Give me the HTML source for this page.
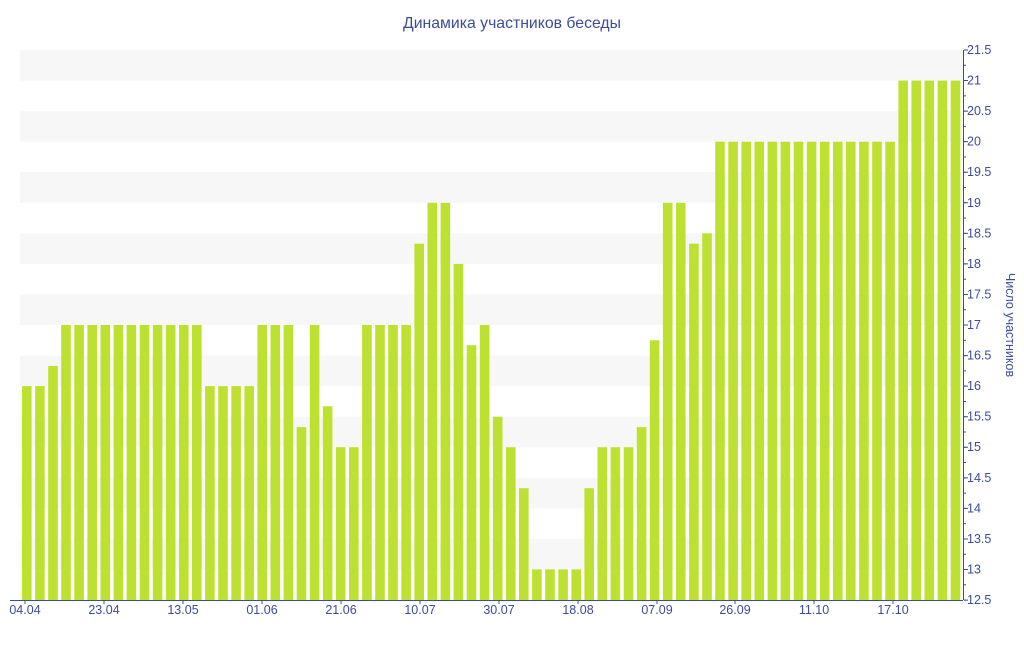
<!DOCTYPE html><html><head><meta charset="utf-8"><style>body{margin:0;background:#fff}</style></head><body>
<svg width="1024" height="640" xmlns="http://www.w3.org/2000/svg" font-family="Liberation Sans, DejaVu Sans, sans-serif">
<text x="512" y="28" text-anchor="middle" font-size="15.8" fill="#3b4c9b">Динамика участников беседы</text>
<g fill="#f7f7f7">
<rect x="20" y="50" width="943" height="30.6"/><rect x="20" y="111.1" width="943" height="30.6"/><rect x="20" y="172.2" width="943" height="30.6"/><rect x="20" y="233.3" width="943" height="30.6"/><rect x="20" y="294.4" width="943" height="30.6"/><rect x="20" y="355.6" width="943" height="30.6"/><rect x="20" y="416.7" width="943" height="30.6"/><rect x="20" y="477.8" width="943" height="30.6"/><rect x="20" y="538.9" width="943" height="30.6"/>
</g>
<g fill="#bde131">
<rect x="22" y="386.1" width="9.6" height="213.9"/>
<rect x="35.1" y="386.1" width="9.6" height="213.9"/>
<rect x="48.2" y="365.9" width="9.6" height="234.1"/>
<rect x="61.2" y="325" width="9.6" height="275"/>
<rect x="74.3" y="325" width="9.6" height="275"/>
<rect x="87.4" y="325" width="9.6" height="275"/>
<rect x="100.5" y="325" width="9.6" height="275"/>
<rect x="113.6" y="325" width="9.6" height="275"/>
<rect x="126.6" y="325" width="9.6" height="275"/>
<rect x="139.7" y="325" width="9.6" height="275"/>
<rect x="152.8" y="325" width="9.6" height="275"/>
<rect x="165.9" y="325" width="9.6" height="275"/>
<rect x="179" y="325" width="9.6" height="275"/>
<rect x="192" y="325" width="9.6" height="275"/>
<rect x="205.1" y="386.1" width="9.6" height="213.9"/>
<rect x="218.2" y="386.1" width="9.6" height="213.9"/>
<rect x="231.3" y="386.1" width="9.6" height="213.9"/>
<rect x="244.4" y="386.1" width="9.6" height="213.9"/>
<rect x="257.4" y="325" width="9.6" height="275"/>
<rect x="270.5" y="325" width="9.6" height="275"/>
<rect x="283.6" y="325" width="9.6" height="275"/>
<rect x="296.7" y="427.1" width="9.6" height="172.9"/>
<rect x="309.8" y="325" width="9.6" height="275"/>
<rect x="322.8" y="406.3" width="9.6" height="193.7"/>
<rect x="335.9" y="447.2" width="9.6" height="152.8"/>
<rect x="349" y="447.2" width="9.6" height="152.8"/>
<rect x="362.1" y="325" width="9.6" height="275"/>
<rect x="375.2" y="325" width="9.6" height="275"/>
<rect x="388.2" y="325" width="9.6" height="275"/>
<rect x="401.3" y="325" width="9.6" height="275"/>
<rect x="414.4" y="243.7" width="9.6" height="356.3"/>
<rect x="427.5" y="202.8" width="9.6" height="397.2"/>
<rect x="440.6" y="202.8" width="9.6" height="397.2"/>
<rect x="453.6" y="263.9" width="9.6" height="336.1"/>
<rect x="466.7" y="345.2" width="9.6" height="254.8"/>
<rect x="479.8" y="325" width="9.6" height="275"/>
<rect x="492.9" y="416.7" width="9.6" height="183.3"/>
<rect x="506" y="447.2" width="9.6" height="152.8"/>
<rect x="519" y="488.2" width="9.6" height="111.8"/>
<rect x="532.1" y="569.4" width="9.6" height="30.6"/>
<rect x="545.2" y="569.4" width="9.6" height="30.6"/>
<rect x="558.3" y="569.4" width="9.6" height="30.6"/>
<rect x="571.4" y="569.4" width="9.6" height="30.6"/>
<rect x="584.4" y="488.2" width="9.6" height="111.8"/>
<rect x="597.5" y="447.2" width="9.6" height="152.8"/>
<rect x="610.6" y="447.2" width="9.6" height="152.8"/>
<rect x="623.7" y="447.2" width="9.6" height="152.8"/>
<rect x="636.8" y="427.1" width="9.6" height="172.9"/>
<rect x="649.8" y="340.3" width="9.6" height="259.7"/>
<rect x="662.9" y="202.8" width="9.6" height="397.2"/>
<rect x="676" y="202.8" width="9.6" height="397.2"/>
<rect x="689.1" y="243.7" width="9.6" height="356.3"/>
<rect x="702.2" y="233.3" width="9.6" height="366.7"/>
<rect x="715.2" y="141.7" width="9.6" height="458.3"/>
<rect x="728.3" y="141.7" width="9.6" height="458.3"/>
<rect x="741.4" y="141.7" width="9.6" height="458.3"/>
<rect x="754.5" y="141.7" width="9.6" height="458.3"/>
<rect x="767.6" y="141.7" width="9.6" height="458.3"/>
<rect x="780.6" y="141.7" width="9.6" height="458.3"/>
<rect x="793.7" y="141.7" width="9.6" height="458.3"/>
<rect x="806.8" y="141.7" width="9.6" height="458.3"/>
<rect x="819.9" y="141.7" width="9.6" height="458.3"/>
<rect x="833" y="141.7" width="9.6" height="458.3"/>
<rect x="846" y="141.7" width="9.6" height="458.3"/>
<rect x="859.1" y="141.7" width="9.6" height="458.3"/>
<rect x="872.2" y="141.7" width="9.6" height="458.3"/>
<rect x="885.3" y="141.7" width="9.6" height="458.3"/>
<rect x="898.4" y="80.6" width="9.6" height="519.4"/>
<rect x="911.4" y="80.6" width="9.6" height="519.4"/>
<rect x="924.5" y="80.6" width="9.6" height="519.4"/>
<rect x="937.6" y="80.6" width="9.6" height="519.4"/>
<rect x="950.7" y="80.6" width="9.6" height="519.4"/>
</g>
<g stroke="#3b4c9b" stroke-width="1">
<line x1="963.5" y1="50" x2="963.5" y2="600"/>
<line x1="10" y1="600.5" x2="963" y2="600.5"/>
<line x1="965" y1="49.5" x2="965" y2="601" stroke-width="2" stroke-dasharray="1 14.28"/>
<line x1="966" y1="49.5" x2="966" y2="601" stroke-width="4" stroke-dasharray="1 29.56"/>
<line x1="25" y1="600" x2="25" y2="604"/><line x1="104" y1="600" x2="104" y2="604"/><line x1="183" y1="600" x2="183" y2="604"/><line x1="262" y1="600" x2="262" y2="604"/><line x1="341" y1="600" x2="341" y2="604"/><line x1="420" y1="600" x2="420" y2="604"/><line x1="499" y1="600" x2="499" y2="604"/><line x1="578" y1="600" x2="578" y2="604"/><line x1="657" y1="600" x2="657" y2="604"/><line x1="735" y1="600" x2="735" y2="604"/><line x1="814" y1="600" x2="814" y2="604"/><line x1="893" y1="600" x2="893" y2="604"/>
</g>
<g font-size="12.5" fill="#3b4c9b">
<text x="967" y="604">12.5</text><text x="967" y="573.4">13</text><text x="967" y="542.9">13.5</text><text x="967" y="512.3">14</text><text x="967" y="481.8">14.5</text><text x="967" y="451.2">15</text><text x="967" y="420.7">15.5</text><text x="967" y="390.1">16</text><text x="967" y="359.6">16.5</text><text x="967" y="329">17</text><text x="967" y="298.4">17.5</text><text x="967" y="267.9">18</text><text x="967" y="237.3">18.5</text><text x="967" y="206.8">19</text><text x="967" y="176.2">19.5</text><text x="967" y="145.7">20</text><text x="967" y="115.1">20.5</text><text x="967" y="84.6">21</text><text x="967" y="54">21.5</text>
</g>
<g font-size="12.5" fill="#3b4c9b" text-anchor="middle">
<text x="25" y="614">04.04</text><text x="104" y="614">23.04</text><text x="183" y="614">13.05</text><text x="262" y="614">01.06</text><text x="341" y="614">21.06</text><text x="420" y="614">10.07</text><text x="499" y="614">30.07</text><text x="578" y="614">18.08</text><text x="657" y="614">07.09</text><text x="735" y="614">26.09</text><text x="814" y="614">11.10</text><text x="893" y="614">17.10</text>
</g>
<text transform="translate(1006,325) rotate(90)" text-anchor="middle" font-size="12.5" fill="#3b4c9b">Число участников</text>
</svg></body></html>
